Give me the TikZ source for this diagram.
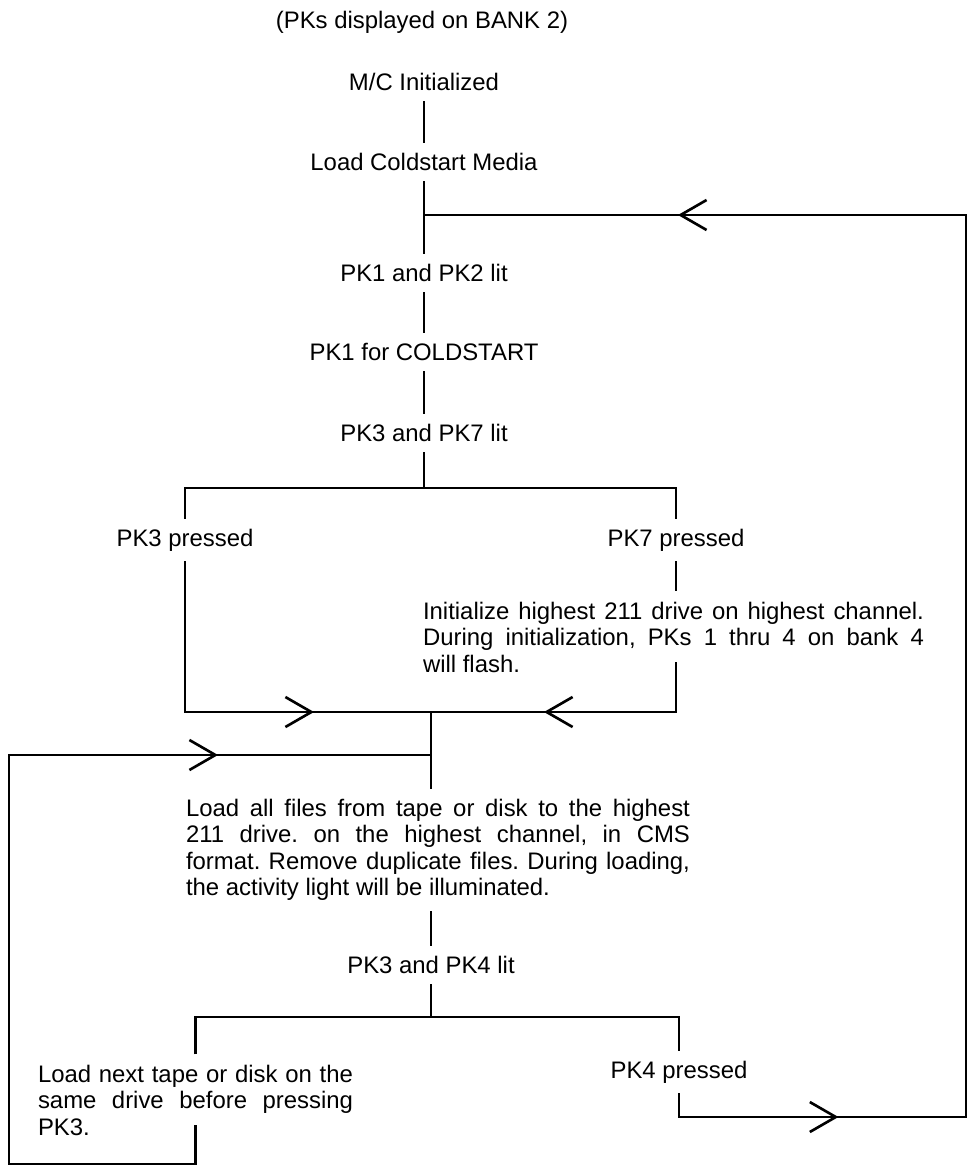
\documentclass[tikz,border=0pt]{standalone}
\usepackage{fontspec}
\setmainfont{Liberation Sans}
\usetikzlibrary{arrows.meta,decorations.markings}

\begin{document}
\begin{tikzpicture}[
    x=0.02cm, y=-0.02cm,
    every node/.style={
        inner sep=0.2cm,
        font=\fontsize{13.6}{15.1}\selectfont
    },
    block/.style={
        text width=#1,
        align=justify,
        execute at begin node={\tolerance=9999\relax\hyphenpenalty=10000\relax\frenchspacing}
    },
    link/.style={line width=1.5pt},
    chev/.style={postaction={decorate, decoration={markings,
        mark=at position #1 with {\arrow{Straight Barb[length=5.2mm,width=6mm]}}}}}
]
\useasboundingbox (0,0) rectangle (968,1167);

\node (title) at (422,22) {(PKs displayed on BANK 2)};
\node (mc) at (424,82) {M/C Initialized};
\node (load) at (424,162) {Load Coldstart Media};
\node (pk12) at (424,273) {PK1 and PK2 lit};
\node (pk1c) at (424,352) {PK1 for COLDSTART};
\node (pk37) at (424,433) {PK3 and PK7 lit};
\node (pk3p) at (185,540) {PK3 pressed};
\node (pk7p) at (676,540) {PK7 pressed};
\node[block=10.02cm] (init) at (673.5,637) {Initialize highest 211 drive on highest channel.\linebreak During initialization, PKs 1 thru 4 on bank 4\linebreak will flash.};
\node[block=10.08cm] (loadall) at (438,850) {Load all files from tape or disk to the highest\linebreak 211 drive. on the highest channel, in CMS\linebreak format. Remove duplicate files. During loading,\linebreak the activity light will be illuminated.};
\node (pk34) at (431,965) {PK3 and PK4 lit};
\node[block=6.3cm] (next) at (195.5,1100) {Load next tape or disk on the\linebreak same drive before pressing\linebreak PK3.};
\node (pk4p) at (679,1072) {PK4 pressed};

% junctions and corners
\coordinate (jtop) at (424,215);
\coordinate (rt) at (966,215);
\coordinate (rb) at (966,1117);
\coordinate (sp1) at (424,488);
\coordinate (i7) at (676,662);
\coordinate (j1) at (431,712);
\coordinate (j3) at (431,755);
\coordinate (sp2) at (431,1017);
\coordinate (n3) at (195.5,1125);
\coordinate (lb) at (9,1164);

\draw[link] (mc) -- (load);
\draw[link] (load) -- (pk12);
\draw[link] (pk12) -- (pk1c);
\draw[link] (pk1c) -- (pk37);
\draw[link] (pk37) -- (sp1);
\draw[link] (pk3p) |- (sp1) -| (pk7p);
\draw[link] (pk7p) -- (pk7p |- init.north);
\draw[link, chev=-2.34cm] (pk3p) |- (j1);
\draw[link, chev=-2.26cm] (i7) |- (j1);
\draw[link] (j1) -- (j1 |- loadall.north);
\draw[link, chev=-4.26cm] (n3) |- (lb) |- (j3);
\draw[link] (loadall.south -| pk34) -- (pk34);
\draw[link] (pk34) -- (sp2);
\draw[link] (next) |- (sp2) -| (pk4p);
\draw[link, chev=3.66cm, chev=-5.08cm] (pk4p) |- (rb) -- (rt) -- (jtop);

\end{tikzpicture}
\end{document}
